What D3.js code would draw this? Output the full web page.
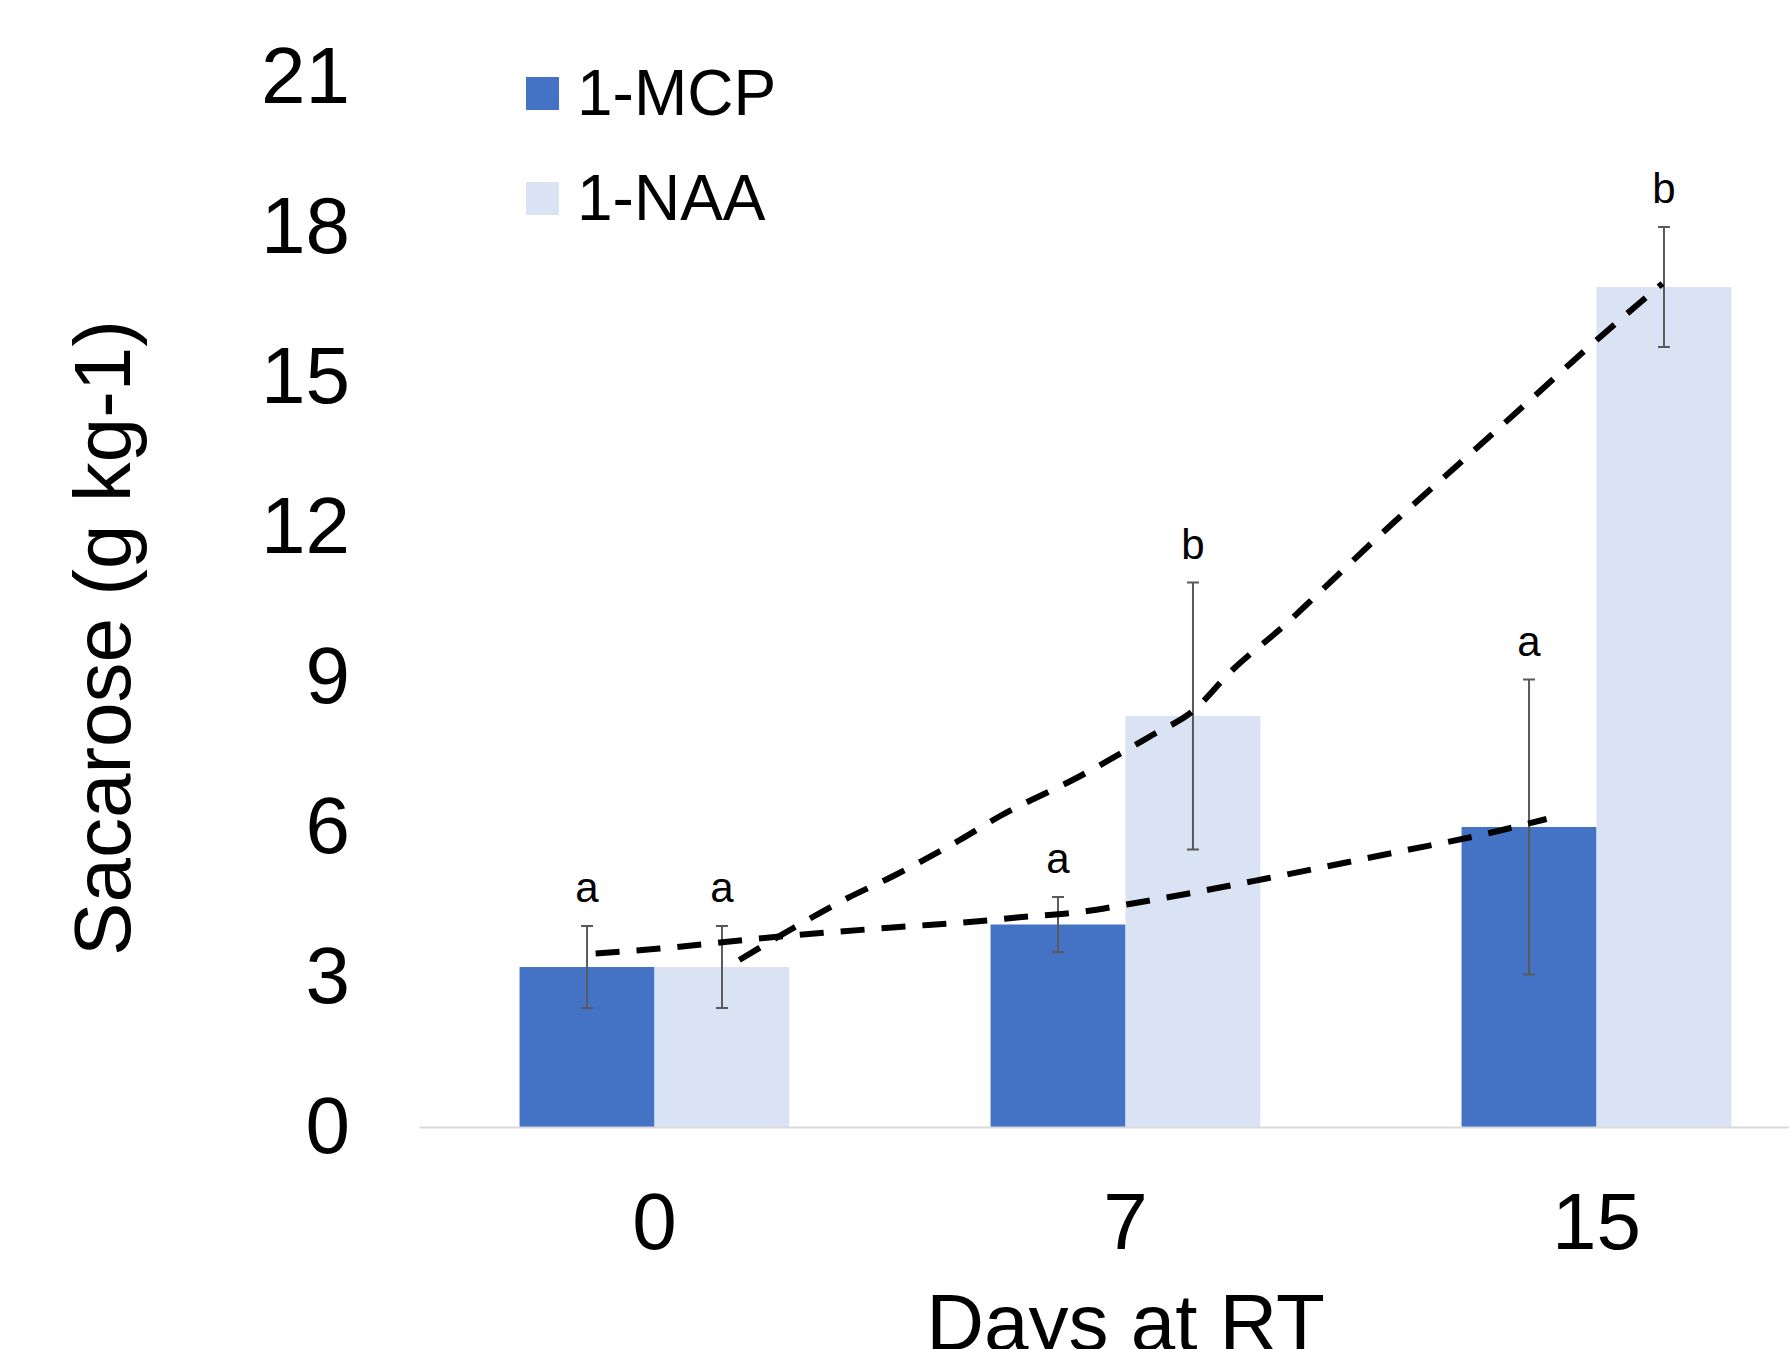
<!DOCTYPE html>
<html>
<head>
<meta charset="utf-8">
<script src="https://cdn.jsdelivr.net/npm/d3@7"></script>
<style>
  body { margin: 0; background: #fff; }
  text { font-family: "Liberation Sans", Arial, sans-serif; fill: #000; }
</style>
</head>
<body>
<div id="chart"></div>
<script>
const days = ["0", "7", "15"];
const treatments = ["1-MCP", "1-NAA"];
const mcpValues = [3.2, 4.05, 6.0];
const naaValues = [3.2, 8.22, 16.8];
const mcpErrors = [0.82, 0.55, 2.95];
const naaErrors = [0.82, 2.67, 1.2];
const mcpLetters = ["a", "a", "a"];
const naaLetters = ["a", "b", "b"];
const yTicks = [0, 3, 6, 9, 12, 15, 18, 21];

// dashed trend lines, x in day slots (0 = day 0, 1 = day 7, 2 = day 15)
const mcpTrendX = [-0.125, 0.011, 0.265, 0.505, 0.718, 0.769, 0.896, 1.015, 1.299, 1.582, 1.773, 1.894];
const mcpTrendY = [3.47, 3.57, 3.81, 3.99, 4.14, 4.19, 4.29, 4.47, 4.97, 5.51, 5.88, 6.16];
const naaTrendX = [0.180, 0.293, 0.408, 0.505, 0.648, 0.732, 0.902, 1.057, 1.142, 1.227, 1.342, 1.406, 1.567, 1.709, 1.851, 1.992, 2.140];
const naaTrendY = [3.34, 3.97, 4.57, 5.01, 5.74, 6.21, 7.01, 7.84, 8.31, 9.14, 10.07, 10.64, 12.07, 13.27, 14.47, 15.67, 16.87];

const width = 1789,
      height = 1349

const colors = { "1-MCP": "#4472C4", "1-NAA": "#DAE3F3" }

const rows = days.flatMap((d, i) => [
   { day: d, t: "1-MCP", v: mcpValues[i], e: mcpErrors[i], l: mcpLetters[i] },
   { day: d, t: "1-NAA", v: naaValues[i], e: naaErrors[i], l: naaLetters[i] }
])

const svg = d3.select("#chart")
              .append("svg")
              .attr("width", width)
              .attr("height", height)

svg.append("rect").attr("width", width).attr("height", height).attr("fill", "#fff")

const y = d3.scaleLinear()
            .domain([0, 21])
            .range([1127, 77])

const x = d3.scaleBand()
            .domain(days)
            .range([419, 1832])
            .paddingInner(0.427)
            .paddingOuter(0.2135)

const xSub = d3.scaleBand()
               .domain(treatments)
               .range([0, x.bandwidth()])

const slot = d3.scaleLinear()
               .domain([0, 2])
               .range([x(days[0]) + x.bandwidth() / 2, x(days[2]) + x.bandwidth() / 2])

// bars
svg.selectAll("rect.bar")
   .data(rows)
   .enter()
   .append("rect")
   .attr("class", "bar")
   .attr("x", d => x(d.day) + xSub(d.t))
   .attr("y", d => y(d.v))
   .attr("width", xSub.bandwidth())
   .attr("height", d => y(0) - y(d.v))
   .attr("fill", d => colors[d.t])

// x axis
const xAxis = svg.append("g")
   .attr("transform", "translate(0," + y(0) + ")")
   .call(d3.axisBottom(x).tickSize(0).tickSizeOuter(0).tickPadding(65))
xAxis.select(".domain").attr("stroke", "#D9D9D9").attr("stroke-width", 2)
xAxis.selectAll("text").style("font-size", "80px").attr("fill", "#000")

// y axis (labels only)
const yAxis = svg.append("g")
   .attr("transform", "translate(419,0)")
   .call(d3.axisLeft(y).tickValues(yTicks).tickSize(0).tickPadding(69))
yAxis.select(".domain").remove()
yAxis.selectAll("text").style("font-size", "80px").attr("fill", "#000")

// error bars
const err = svg.selectAll("g.err")
   .data(rows)
   .enter()
   .append("g")
   .attr("class", "err")
   .attr("stroke", "#595959")
   .attr("stroke-width", 2)
const cx = d => x(d.day) + xSub(d.t) + xSub.bandwidth() / 2
err.append("line")
   .attr("x1", cx).attr("x2", cx)
   .attr("y1", d => y(d.v + d.e)).attr("y2", d => y(d.v - d.e))
err.append("line")
   .attr("x1", d => cx(d) - 6).attr("x2", d => cx(d) + 6)
   .attr("y1", d => y(d.v + d.e)).attr("y2", d => y(d.v + d.e))
err.append("line")
   .attr("x1", d => cx(d) - 6).attr("x2", d => cx(d) + 6)
   .attr("y1", d => y(d.v - d.e)).attr("y2", d => y(d.v - d.e))

// significance letters
svg.selectAll("text.letter")
   .data(rows)
   .enter()
   .append("text")
   .attr("class", "letter")
   .attr("x", cx)
   .attr("y", d => y(d.v + d.e) - 24)
   .attr("text-anchor", "middle")
   .style("font-size", "42px")
   .text(d => d.l)

// trend lines
const trend = d3.line()
   .x(d => slot(d[0]))
   .y(d => y(d[1]))
   .curve(d3.curveMonotoneX)

const trends = [d3.zip(mcpTrendX, mcpTrendY), d3.zip(naaTrendX, naaTrendY)]
svg.selectAll("path.trend")
   .data(trends)
   .enter()
   .append("path")
   .attr("class", "trend")
   .attr("d", trend)
   .attr("fill", "none")
   .attr("stroke", "#000")
   .attr("stroke-width", 6)
   .attr("stroke-dasharray", "24,17")

// legend
const legend = svg.selectAll("g.legend")
   .data(treatments)
   .enter()
   .append("g")
   .attr("class", "legend")
   .attr("transform", (d, i) => "translate(526," + (77 + i * 105) + ")")
legend.append("rect")
   .attr("width", 33)
   .attr("height", 33)
   .attr("fill", d => colors[d])
legend.append("text")
   .attr("x", 51)
   .attr("y", 38)
   .style("font-size", "64px")
   .text(d => d)

// axis titles
svg.append("text")
   .attr("transform", "translate(130,638) rotate(-90)")
   .attr("text-anchor", "middle")
   .style("font-size", "80px")
   .text("Sacarose (g kg-1)")

svg.append("text")
   .attr("x", (419 + 1832) / 2)
   .attr("y", 1350)
   .attr("text-anchor", "middle")
   .style("font-size", "80px")
   .text("Days at RT")
</script>
</body>
</html>
